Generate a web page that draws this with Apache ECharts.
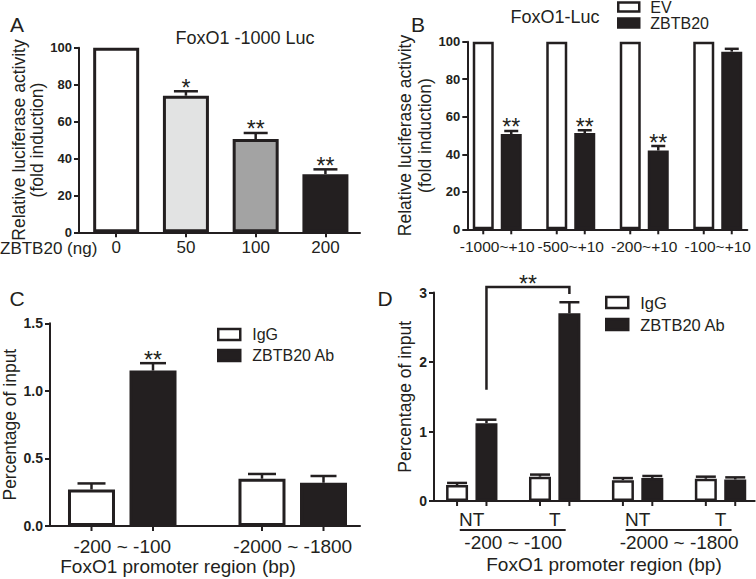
<!DOCTYPE html>
<html><head><meta charset="utf-8">
<script src="https://cdn.jsdelivr.net/npm/echarts@6/dist/echarts.min.js"></script>
<style>html,body{margin:0;padding:0;background:#fff}#c{width:756px;height:579px}</style>
</head><body><div id="c"></div>
<script>
// ---------- data ----------
const aCats = ['0', '50', '100', '200'];
const aMeans = [100, 74, 50.5, 31.5];
const aErrs = [0, 2.4, 3.3, 2.6];
const aSig = ['', '*', '**', '**'];

const bCats = ['-1000~+10', '-500~+10', '-200~+10', '-100~+10'];
const bEV = [100, 100, 100, 100];
const bEVErr = [0, 0, 0, 0];
const bZB = [50.8, 51.3, 42.0, 94.7];
const bZBErr = [1.6, 1.5, 2.4, 1.5];
const bSig = ['**', '**', '**', ''];

const cCats = ['-200 ~ -100', '-2000 ~ -1800'];
const cIgG = [0.27, 0.35];
const cIgGErr = [0.045, 0.035];
const cZB = [1.15, 0.32];
const cZBErr = [0.055, 0.05];
const cSig = ['**', ''];

const dCats = ['NT', 'T', 'NT', 'T'];
const dRegions = ['-200 ~ -100', '-2000 ~ -1800'];
const dIgG = [0.23, 0.35, 0.30, 0.32];
const dIgGErr = [0.03, 0.03, 0.03, 0.03];
const dZB = [1.12, 2.70, 0.33, 0.31];
const dZBErr = [0.05, 0.16, 0.03, 0.03];
const dBracketCats = [0, 1];
const dBracketY = [1.6, 3.08, 2.98];
const dBracketSig = '**';
const dGroupSpans = [[0, 1], [2, 3]];

// ---------- styles ----------
const DARK = '#231f20';
const FONT = '"Liberation Sans", Arial, sans-serif';
const aFills = ['#ffffff', '#e2e3e3', '#a3a3a3', DARK];
const SIG = 23;

const L = {
  aF: { left: 79, top: 47.7, width: 281, height: 184.6 },
  aD: { left: 81.3, top: 47.7, width: 279, height: 184.6 },
  bF: { left: 467.3, top: 41.7, width: 280, height: 187.6 },
  bD: { left: 460.5, top: 41.7, width: 294, height: 187.6 },
  cF: { left: 50, top: 323.3, width: 310, height: 202.7 },
  cD: { left: 37, top: 323.3, width: 341, height: 202.7 },
  dF: { left: 434, top: 292.5, width: 320.7, height: 208.5 },
  dD: { left: 430.3, top: 292.5, width: 331.7, height: 208.5 }
};
const BW = { a: 46, b: 21, c: 47, d: 22 };
const GAP = { b: 7, c: 14.5, d: 7.4 };

const grids = ['aF', 'aD', 'bF', 'bD', 'cF', 'cD', 'dF', 'dD'].map(k => Object.assign({ outerBoundsMode: 'none', containLabel: false }, L[k]));

function frameX(gi) {
  return { gridIndex: gi, type: 'value', min: 0, max: 1, axisLine: { show: true, lineStyle: { color: DARK, width: 2 } },
    axisTick: { show: false }, axisLabel: { show: false }, splitLine: { show: false } };
}
function frameY(gi, max, interval, labelSize, fmt, name, nameGap, nameSize, lh) {
  return { gridIndex: gi, type: 'value', min: 0, max: max, interval: interval,
    axisLine: { show: true, lineStyle: { color: DARK, width: 2 } },
    axisTick: { show: true, length: 5, lineStyle: { color: DARK, width: 2 } },
    axisLabel: { fontFamily: FONT, fontSize: labelSize, fontWeight: 'bold', color: DARK, margin: 7, formatter: fmt },
    splitLine: { show: false },
    name: name, nameLocation: 'middle', nameGap: nameGap, nameRotate: 90,
    nameTextStyle: { fontFamily: FONT, fontSize: nameSize, color: DARK, lineHeight: lh } };
}
function hiddenY(gi, max) { return { gridIndex: gi, type: 'value', min: 0, max: max, show: false }; }
function catX(gi, data, size, margin, tick) {
  return { gridIndex: gi, type: 'category', data: data, axisLine: { show: false },
    axisTick: tick ? { show: true, alignWithLabel: true, length: 5, lineStyle: { color: DARK, width: 2 } } : { show: false },
    axisLabel: { fontFamily: FONT, fontSize: size, color: DARK, margin: margin, interval: 0 },
    splitLine: { show: false } };
}

function errSeries(axi, means, errs, sigs, offset, cap, withTick, sigSize, sigLift) {
  return {
    type: 'custom', xAxisIndex: axi, yAxisIndex: axi, z: 5, silent: true, clip: false,
    data: means.map((m, i) => [i, m, errs[i]]),
    renderItem: function (params, api) {
      const i = api.value(0), m = api.value(1), e = api.value(2);
      const base = api.coord([i, 0]);
      const top = api.coord([i, m]);
      const et = api.coord([i, m + e]);
      const x = base[0] + offset;
      const st = { stroke: DARK, lineWidth: 2.5 };
      const ch = [];
      if (e > 0) {
        ch.push({ type: 'line', shape: { x1: x, y1: top[1], x2: x, y2: et[1] }, style: st });
        ch.push({ type: 'line', shape: { x1: x - cap, y1: et[1], x2: x + cap, y2: et[1] }, style: st });
      }
      if (withTick) ch.push({ type: 'line', shape: { x1: x, y1: base[1], x2: x, y2: base[1] + 5 }, style: { stroke: DARK, lineWidth: 2 } });
      const s = sigs ? sigs[params.dataIndex] : '';
      if (s) ch.push({ type: 'text', style: { text: s, x: x, y: et[1] + sigLift, align: 'center', verticalAlign: 'bottom',
        textAlign: 'center', textVerticalAlign: 'bottom', fontSize: sigSize, fontFamily: FONT, fill: DARK } });
      return { type: 'group', children: ch };
    }
  };
}

function barSeries(name, axi, data, width, fill, border, gapPct) {
  const s = { type: 'bar', name: name, xAxisIndex: axi, yAxisIndex: axi, barWidth: width, data: data,
    itemStyle: { color: fill, borderColor: DARK, borderWidth: border }, silent: true, animation: false };
  if (gapPct !== undefined) s.barGap = gapPct;
  return s;
}

const bOff = (BW.b + GAP.b) / 2, cOff = (BW.c + GAP.c) / 2, dOff = (BW.d + GAP.d) / 2;
const pct = k => (GAP[k] / BW[k] * 100).toFixed(1) + '%';

const series = [
  // A
  barSeries('A', 1, aMeans.map((v, i) => ({ value: v, itemStyle: { color: aFills[i] } })), BW.a, '#fff', 3),
  errSeries(1, aMeans, aErrs, aSig, 0, 12, false, SIG, 8),
  // B
  barSeries('EV', 3, bEV, BW.b, '#ffffff', 2.5, pct('b')),
  barSeries('ZBTB20', 3, bZB, BW.b, DARK, 2.5, pct('b')),
  errSeries(3, bEV, bEVErr, null, -bOff, 7, true, SIG, 8),
  errSeries(3, bZB, bZBErr, bSig, bOff, 7, true, SIG, 8),
  // C
  barSeries('IgG', 5, cIgG, BW.c, '#ffffff', 3, pct('c')),
  barSeries('ZBTB20 Ab', 5, cZB, BW.c, DARK, 3, pct('c')),
  errSeries(5, cIgG, cIgGErr, null, -cOff, 14, true, SIG, 8),
  errSeries(5, cZB, cZBErr, cSig, cOff, 13, true, SIG, 8),
  // D
  barSeries('IgG', 7, dIgG, BW.d, '#ffffff', 2.5, pct('d')),
  barSeries('ZBTB20 Ab', 7, dZB, BW.d, DARK, 2.5, pct('d')),
  errSeries(7, dIgG, dIgGErr, null, -dOff, 10, true, SIG, 8),
  errSeries(7, dZB, dZBErr, null, dOff, 10, true, SIG, 8),
  // D bracket
  {
    type: 'custom', xAxisIndex: 7, yAxisIndex: 7, z: 6, silent: true, clip: false,
    data: [[dBracketCats[0], dBracketCats[1], dBracketY[0], dBracketY[1], dBracketY[2]]],
    renderItem: function (params, api) {
      const p0 = api.coord([api.value(0), api.value(2)]);
      const pt = api.coord([api.value(0), api.value(3)]);
      const p1 = api.coord([api.value(1), api.value(4)]);
      const xl = p0[0] + dOff, xr = p1[0] + dOff;
      return { type: 'group', children: [
        { type: 'polyline', shape: { points: [[xl, p0[1]], [xl, pt[1]], [xr, pt[1]], [xr, p1[1]]] }, style: { stroke: DARK, lineWidth: 2.5, fill: 'none' } },
        { type: 'text', style: { text: dBracketSig, x: (xl + xr) / 2, y: pt[1] + 9, align: 'center', verticalAlign: 'bottom', textAlign: 'center', textVerticalAlign: 'bottom', fontSize: SIG, fontFamily: FONT, fill: DARK } }
      ] };
    }
  },
  // D group underlines
  {
    type: 'custom', xAxisIndex: 7, yAxisIndex: 7, z: 6, silent: true, clip: false,
    data: dGroupSpans.map(s => [s[0], s[1]]),
    renderItem: function (params, api) {
      const a = api.coord([api.value(0), 0]);
      const b = api.coord([api.value(1), 0]);
      return { type: 'line', shape: { x1: a[0] - 12, y1: a[1] + 29, x2: b[0] + 11, y2: a[1] + 29 }, style: { stroke: DARK, lineWidth: 2 } };
    }
  }
];

const legendBase = { orient: 'vertical', padding: 0, icon: 'rect', selectedMode: false,
  itemStyle: { borderColor: DARK, borderWidth: 2.5 } };

const option = {
  animation: false,
  backgroundColor: '#ffffff',
  textStyle: { fontFamily: FONT, color: DARK },
  grid: grids,
  xAxis: [
    frameX(0), catX(1, aCats, 17, 7, true),
    frameX(2), catX(3, bCats, 15.5, 9, false),
    frameX(4), catX(5, cCats, 19, 11, false),
    frameX(6), catX(7, dCats, 19, 9, false),
    { gridIndex: 7, type: 'category', data: dRegions, position: 'bottom', offset: 27, axisLine: { show: false }, axisTick: { show: false },
      axisLabel: { fontFamily: FONT, fontSize: 19, color: DARK, margin: 5, interval: 0 }, splitLine: { show: false } }
  ],
  yAxis: [
    frameY(0, 100, 20, 13, null, 'Relative luciferase activity\n(fold induction)', 31, 17.5, 18), hiddenY(1, 100),
    frameY(2, 100, 20, 13, null, 'Relative luciferase activity\n(fold induction)', 26, 17.5, 20), hiddenY(3, 100),
    frameY(4, 1.5, 0.5, 14, v => v.toFixed(1), 'Percentage of input', 30, 17.5, 20), hiddenY(5, 1.5),
    frameY(6, 3, 1, 14, null, 'Percentage of input', 16, 17.5, 20), hiddenY(7, 3)
  ],
  legend: [
    Object.assign({}, legendBase, { data: ['EV', 'ZBTB20'], left: 617, top: -1, itemWidth: 21, itemHeight: 9, itemGap: 0,
      textStyle: { fontFamily: FONT, fontSize: 16, color: DARK, padding: [0, 0, 0, 6] } }),
    Object.assign({}, legendBase, { data: ['IgG', 'ZBTB20 Ab'], left: 217, top: 326.5, itemWidth: 22, itemHeight: 11, itemGap: 5,
      textStyle: { fontFamily: FONT, fontSize: 16, color: DARK, padding: [0, 0, 0, 7] } }),
    Object.assign({}, legendBase, { data: ['IgG', 'ZBTB20 Ab'], left: 605, top: 294, itemWidth: 22, itemHeight: 11, itemGap: 5,
      textStyle: { fontFamily: FONT, fontSize: 16.5, color: DARK, padding: [0, 0, 0, 7] } })
  ],
  graphic: [
    { type: 'text', x: 17, y: 24, style: { text: 'A', fontSize: 21, fontFamily: FONT, fill: DARK, align: 'center', verticalAlign: 'middle', textAlign: 'center', textVerticalAlign: 'middle' } },
    { type: 'text', x: 418, y: 24, style: { text: 'B', fontSize: 21, fontFamily: FONT, fill: DARK, align: 'center', verticalAlign: 'middle', textAlign: 'center', textVerticalAlign: 'middle' } },
    { type: 'text', x: 17, y: 298, style: { text: 'C', fontSize: 21, fontFamily: FONT, fill: DARK, align: 'center', verticalAlign: 'middle', textAlign: 'center', textVerticalAlign: 'middle' } },
    { type: 'text', x: 385, y: 298, style: { text: 'D', fontSize: 21, fontFamily: FONT, fill: DARK, align: 'center', verticalAlign: 'middle', textAlign: 'center', textVerticalAlign: 'middle' } },
    { type: 'text', x: 245, y: 38, style: { text: 'FoxO1 -1000 Luc', fontSize: 18, fontFamily: FONT, fill: DARK, align: 'center', verticalAlign: 'middle', textAlign: 'center', textVerticalAlign: 'middle' } },
    { type: 'text', x: 555, y: 16.5, style: { text: 'FoxO1-Luc', fontSize: 18, fontFamily: FONT, fill: DARK, align: 'center', verticalAlign: 'middle', textAlign: 'center', textVerticalAlign: 'middle' } },
    { type: 'text', x: 0, y: 248, style: { text: 'ZBTB20 (ng)', fontSize: 17, fontFamily: FONT, fill: DARK, align: 'left', verticalAlign: 'middle', textAlign: 'left', textVerticalAlign: 'middle' } },
    { type: 'text', x: 178, y: 566.5, style: { text: 'FoxO1 promoter region (bp)', fontSize: 19, fontFamily: FONT, fill: DARK, align: 'center', verticalAlign: 'middle', textAlign: 'center', textVerticalAlign: 'middle' } },
    { type: 'text', x: 604, y: 564.5, style: { text: 'FoxO1 promoter region (bp)', fontSize: 19, fontFamily: FONT, fill: DARK, align: 'center', verticalAlign: 'middle', textAlign: 'center', textVerticalAlign: 'middle' } }
  ],
  series: series
};

const chart = echarts.init(document.getElementById('c'), null, { renderer: 'svg' });
chart.setOption(option);
</script>
</body></html>
